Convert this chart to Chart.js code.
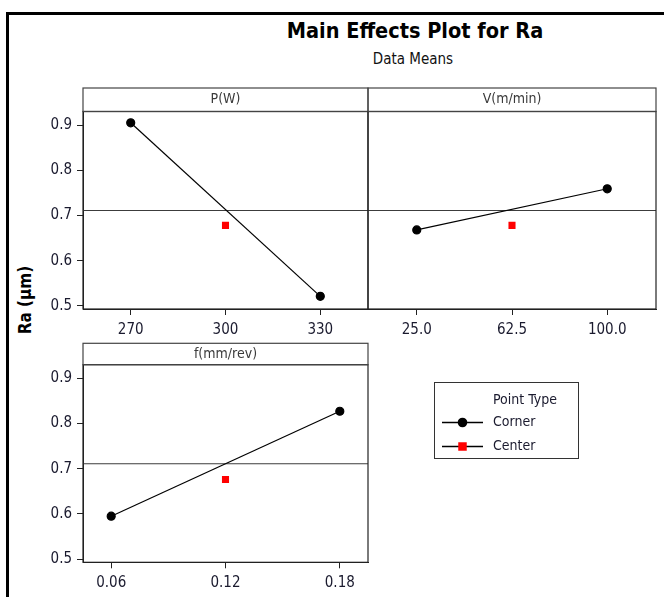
<!DOCTYPE html>
<html>
<head>
<meta charset="utf-8">
<script src="https://cdn.jsdelivr.net/npm/chart.js@4.4.1/dist/chart.umd.min.js"></script>
<style>
  body { margin: 0; background: #fff; width: 664px; height: 597px; overflow: hidden; position: relative; font-family: 'DejaVu Sans Condensed', 'DejaVu Sans', sans-serif; }
  canvas { position: absolute; }
  #frame { position: absolute; left: 6px; top: 12px; width: 670px; height: 600px; border-top: 3px solid #000; border-left: 3px solid #000; }
  #title { position: absolute; left: 215px; width: 400px; top: 18px; text-align: center; font-weight: bold; font-size: 21.5px; color: #000; }
  #subtitle { position: absolute; left: 213px; width: 400px; top: 50px; text-align: center; font-size: 15px; color: #111; }
  #ytitle { position: absolute; left: 25px; top: 300px; transform: translate(-50%, -50%) rotate(-90deg); font-weight: bold; font-size: 17px; white-space: nowrap; color: #000; }
</style>
</head>
<body>
<div id="frame"></div>
<div id="title">Main Effects Plot for Ra</div>
<div id="subtitle">Data Means</div>
<div id="ytitle">Ra (μm)</div>
<canvas id="c1" width="380" height="270" style="left:0px;top:80px"></canvas>
<canvas id="c2" width="304" height="270" style="left:360px;top:80px"></canvas>
<canvas id="c3" width="664" height="262" style="left:0px;top:335px"></canvas>
<script>
// data
var meanRa = 0.711;
var yTicks = [0.5, 0.6, 0.7, 0.8, 0.9];
var yRange = [0.493, 0.93];

var pLevels = [270, 330];
var pCorner = [0.905, 0.521];
var pCenterX = [300];
var pCenter = [0.678];
var pTicks = ["270", "300", "330"];
var pTickVals = [270, 300, 330];
var pRange = [254.9, 345.1];

var vLevels = [25, 100];
var vCorner = [0.668, 0.759];
var vCenterX = [62.5];
var vCenter = [0.678];
var vTicks = ["25.0", "62.5", "100.0"];
var vTickVals = [25, 62.5, 100];
var vRange = [5.8, 119.2];

var fLevels = [0.06, 0.18];
var fCorner = [0.595, 0.827];
var fCenterX = [0.12];
var fCenter = [0.676];
var fTicks = ["0.06", "0.12", "0.18"];
var fTickVals = [0.06, 0.12, 0.18];
var fRange = [0.0452, 0.1948];

var FONT = "'DejaVu Sans Condensed', 'DejaVu Sans', sans-serif";
Chart.defaults.font.family = FONT;
Chart.defaults.color = "#1a1a2e";

// strip header + box around each panel, legend on panel 3
var panelFrame = {
  id: "panelFrame",
  afterDraw(chart) {
    const ctx = chart.ctx;
    const a = chart.chartArea;
    const o = chart.options.plugins.panelFrame;
    ctx.save();
    ctx.strokeStyle = "#222";
    ctx.lineWidth = 1.2;
    ctx.strokeRect(a.left, a.top, a.right - a.left, a.bottom - a.top);
    ctx.strokeStyle = "#444";
    ctx.strokeRect(a.left, a.top - o.stripH, a.right - a.left, o.stripH);
    ctx.fillStyle = "#3a3a3a";
    ctx.font = "14px " + FONT;
    ctx.textAlign = "center";
    ctx.textBaseline = "middle";
    ctx.fillText(o.label, (a.left + a.right) / 2, a.top - o.stripH / 2);

    if (o.legend) {
      const L = o.legend;
      ctx.strokeStyle = "#333";
      ctx.lineWidth = 1;
      ctx.strokeRect(L.x + 0.5, L.y + 0.5, L.w, L.h);
      ctx.fillStyle = "#1a1a2e";
      ctx.textAlign = "left";
      ctx.font = "14px " + FONT;
      ctx.fillText("Point Type", L.x + 59, L.y + 18);
      chart.data.datasets.slice(0, 2).forEach((ds, i) => {
        const yy = L.y + 40 + i * 24;
        const r = ds.pointRadius * 1.2;
        ctx.strokeStyle = "#000";
        ctx.lineWidth = 1.3;
        ctx.beginPath();
        ctx.moveTo(L.x + 8, yy + 0.5);
        ctx.lineTo(L.x + 49, yy + 0.5);
        ctx.stroke();
        ctx.fillStyle = ds.pointBackgroundColor;
        ctx.beginPath();
        if (ds.pointStyle === "rect") {
          const s = r * Math.SQRT1_2;
          ctx.fillRect(L.x + 28.5 - s, yy + 0.5 - s, 2 * s, 2 * s);
        } else {
          ctx.arc(L.x + 28.5, yy + 0.5, r, 0, Math.PI * 2);
          ctx.fill();
        }
        ctx.fillStyle = "#1a1a2e";
        ctx.fillText(ds.label, L.x + 59, yy);
      });
    }
    ctx.restore();
  }
};

function makePanel(id, label, levels, corner, cx, cy, tickLabels, tickVals, xr, opts) {
  const cornerPts = levels.map((x, i) => ({ x: x, y: corner[i] }));
  const centerPts = cx.map((x, i) => ({ x: x, y: cy[i] }));
  return new Chart(document.getElementById(id), {
    type: "line",
    data: {
      datasets: [
        {
          label: "Corner",
          data: cornerPts,
          borderColor: "#000",
          borderWidth: 1.2,
          pointStyle: "circle",
          pointRadius: 4,
          pointBackgroundColor: "#000",
          pointBorderColor: "#000",
          order: 1
        },
        {
          label: "Center",
          data: centerPts,
          showLine: false,
          pointStyle: "rect",
          pointRadius: 5,
          pointBackgroundColor: "#ff0000",
          pointBorderColor: "#ff0000",
          pointBorderWidth: 0,
          order: 0
        },
        {
          label: "Mean",
          data: [{ x: xr[0], y: meanRa }, { x: xr[1], y: meanRa }],
          borderColor: "#3c3c3c",
          borderWidth: 1.2,
          pointRadius: 0,
          order: 2
        }
      ]
    },
    options: {
      responsive: false,
      animation: false,
      layout: { padding: opts.padding },
      plugins: {
        legend: { display: false },
        tooltip: { enabled: false },
        panelFrame: { label: label, stripH: opts.stripH, legend: opts.legend }
      },
      scales: {
        x: {
          type: "linear",
          min: xr[0],
          max: xr[1],
          afterBuildTicks: s => { s.ticks = tickVals.map(v => ({ value: v })); },
          afterFit: s => { s.height = opts.xH; },
          ticks: {
            font: { size: 15 },
            padding: 6,
            maxRotation: 0,
            callback: (v) => tickLabels[tickVals.indexOf(v)]
          },
          grid: { drawOnChartArea: false, drawTicks: true, tickLength: 6, color: "#222" },
          border: { display: true, color: "#222" }
        },
        y: {
          display: opts.showY,
          min: yRange[0],
          max: yRange[1],
          afterBuildTicks: s => { s.ticks = yTicks.map(v => ({ value: v })); },
          afterFit: s => { s.width = opts.yW; },
          ticks: {
            font: { size: 15 },
            padding: 5,
            callback: v => v.toFixed(1)
          },
          grid: { drawOnChartArea: false, drawTicks: true, tickLength: 6, color: "#222" },
          border: { display: true, color: "#222" }
        }
      }
    },
    plugins: [panelFrame]
  });
}

makePanel("c1", "P(W)", pLevels, pCorner, pCenterX, pCenter, pTicks, pTickVals, pRange,
  { padding: { left: 0, right: 12, top: 31.5, bottom: 0 }, xH: 41, yW: 83, showY: true, stripH: 23.5 });
makePanel("c2", "V(m/min)", vLevels, vCorner, vCenterX, vCenter, vTicks, vTickVals, vRange,
  { padding: { left: 8, right: 8, top: 31.5, bottom: 0 }, xH: 41, yW: 0, showY: false, stripH: 23.5 });
makePanel("c3", "f(mm/rev)", fLevels, fCorner, fCenterX, fCenter, fTicks, fTickVals, fRange,
  { padding: { left: 0, right: 296, top: 29.7, bottom: 0 }, xH: 34.7, yW: 83, showY: true, stripH: 21.4,
    legend: { x: 434, y: 382 - 335, w: 144, h: 76 } });
</script>
</body>
</html>
